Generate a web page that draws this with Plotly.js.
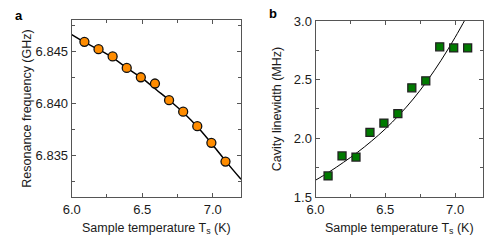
<!DOCTYPE html>
<html>
<head>
<meta charset="utf-8">
<script src="https://cdn.plot.ly/plotly-3.0.1.min.js"></script>
<style>html,body{margin:0;padding:0;background:#fff;}#chart{width:496px;height:244px;}</style>
</head>
<body>
<div id="chart"></div>
<script>
// Panel a: resonance frequency
const tempA = [6.09, 6.19, 6.29, 6.39, 6.49, 6.59, 6.69, 6.79, 6.89, 6.99, 7.09];
const freqA = [6.8459, 6.8452, 6.8445, 6.8434, 6.8425, 6.8419, 6.8403, 6.8392, 6.8378, 6.8362, 6.8344];
const fitTempA = [6.0, 6.1, 6.2, 6.3, 6.4, 6.5, 6.6, 6.7, 6.8, 6.9, 7.0, 7.1, 7.2];
const fitFreqA = [6.8466, 6.8458, 6.8451, 6.8443, 6.8433, 6.8424, 6.8413, 6.8402, 6.8390, 6.8376, 6.8360, 6.8343, 6.8327];

// Panel b: cavity linewidth
const tempB = [6.09, 6.19, 6.29, 6.39, 6.49, 6.59, 6.69, 6.79, 6.89, 6.99, 7.09];
const widthB = [1.68, 1.85, 1.84, 2.05, 2.13, 2.21, 2.43, 2.49, 2.78, 2.77, 2.77];
const fitTempB = [6.0, 6.1, 6.2, 6.3, 6.4, 6.5, 6.6, 6.7, 6.8, 6.9, 7.0, 7.08];
const fitWidthB = [1.643, 1.715, 1.795, 1.88, 1.975, 2.08, 2.20, 2.335, 2.49, 2.665, 2.86, 3.03];

const xTitle = 'Sample temperature T<sub>s</sub> (K)';
const fontFam = 'Liberation Sans, Arial, sans-serif';
const axisCol = '#555';
const textCol = '#1a1a1a';

const traces = [
  {x: fitTempA, y: fitFreqA, xaxis: 'x', yaxis: 'y', mode: 'lines', line: {color: '#000', width: 1.5, shape: 'spline'}, hoverinfo: 'skip'},
  {x: tempA, y: freqA, xaxis: 'x', yaxis: 'y', mode: 'markers', marker: {symbol: 'circle', size: 9, color: '#FF8C00', line: {color: '#111', width: 1.3}}},
  {x: fitTempB, y: fitWidthB, xaxis: 'x2', yaxis: 'y2', mode: 'lines', line: {color: '#000', width: 1, shape: 'spline'}, hoverinfo: 'skip'},
  {x: tempB, y: widthB, xaxis: 'x2', yaxis: 'y2', mode: 'markers', marker: {symbol: 'square', size: 8, color: '#007A00', line: {color: '#222', width: 1.3}}}
];

function xAx(domain) {
  return {
    domain: domain, range: [6.0, 7.2], dtick: 0.5, tick0: 6.0, tickformat: '.1f',
    ticks: 'inside', ticklen: 4, tickwidth: 1, tickcolor: axisCol,
    minor: {dtick: 0.25, ticks: 'inside', ticklen: 3, tickcolor: axisCol},
    showline: true, linecolor: axisCol, linewidth: 1, mirror: 'ticks',
    showgrid: false, zeroline: false,
    tickfont: {family: fontFam, size: 13, color: textCol},
    title: {text: xTitle, font: {family: fontFam, size: 12.5, color: textCol}, standoff: 7}
  };
}

const layout = {
  width: 496, height: 244,
  margin: {l: 0, r: 0, t: 0, b: 0},
  paper_bgcolor: '#fff', plot_bgcolor: '#fff',
  showlegend: false,
  font: {family: fontFam, size: 12, color: textCol},
  xaxis: Object.assign(xAx([0.1446, 0.4859]), {anchor: 'y'}),
  xaxis2: Object.assign(xAx([0.6361, 0.9738]), {anchor: 'y2'}),
  yaxis: {
    domain: [0.1926, 0.918], anchor: 'x', range: [6.831, 6.848], dtick: 0.005, tick0: 6.835, tickformat: '.3f',
    ticks: 'inside', ticklen: 4, tickwidth: 1, tickcolor: axisCol,
    minor: {dtick: 0.0025, ticks: 'inside', ticklen: 3, tickcolor: axisCol},
    showline: true, linecolor: axisCol, linewidth: 1, mirror: 'ticks',
    showgrid: false, zeroline: false,
    tickfont: {family: fontFam, size: 13, color: textCol},
    title: {text: 'Resonance frequency (GHz)', font: {family: fontFam, size: 12.5, color: textCol}, standoff: 1}
  },
  yaxis2: {
    domain: [0.1926, 0.914], anchor: 'x2', range: [1.5, 3.0], dtick: 0.5, tick0: 1.5, tickformat: '.1f',
    ticks: 'inside', ticklen: 4, tickwidth: 1, tickcolor: axisCol,
    minor: {dtick: 0.25, ticks: 'inside', ticklen: 3, tickcolor: axisCol},
    showline: true, linecolor: axisCol, linewidth: 1, mirror: 'ticks',
    showgrid: false, zeroline: false,
    tickfont: {family: fontFam, size: 13, color: textCol},
    title: {text: 'Cavity linewidth (MHz)', font: {family: fontFam, size: 12.5, color: textCol}, standoff: 9}
  },
  annotations: [
    {text: '<b>a</b>', x: 19 / 496, y: 1 - 15 / 244, xref: 'paper', yref: 'paper', showarrow: false, xanchor: 'center', yanchor: 'middle', font: {family: fontFam, size: 13, color: '#000'}},
    {text: '<b>b</b>', x: 273 / 496, y: 1 - 14 / 244, xref: 'paper', yref: 'paper', showarrow: false, xanchor: 'center', yanchor: 'middle', font: {family: fontFam, size: 13, color: '#000'}}
  ]
};

Plotly.newPlot('chart', traces, layout, {displayModeBar: false, staticPlot: true});
</script>
</body>
</html>
